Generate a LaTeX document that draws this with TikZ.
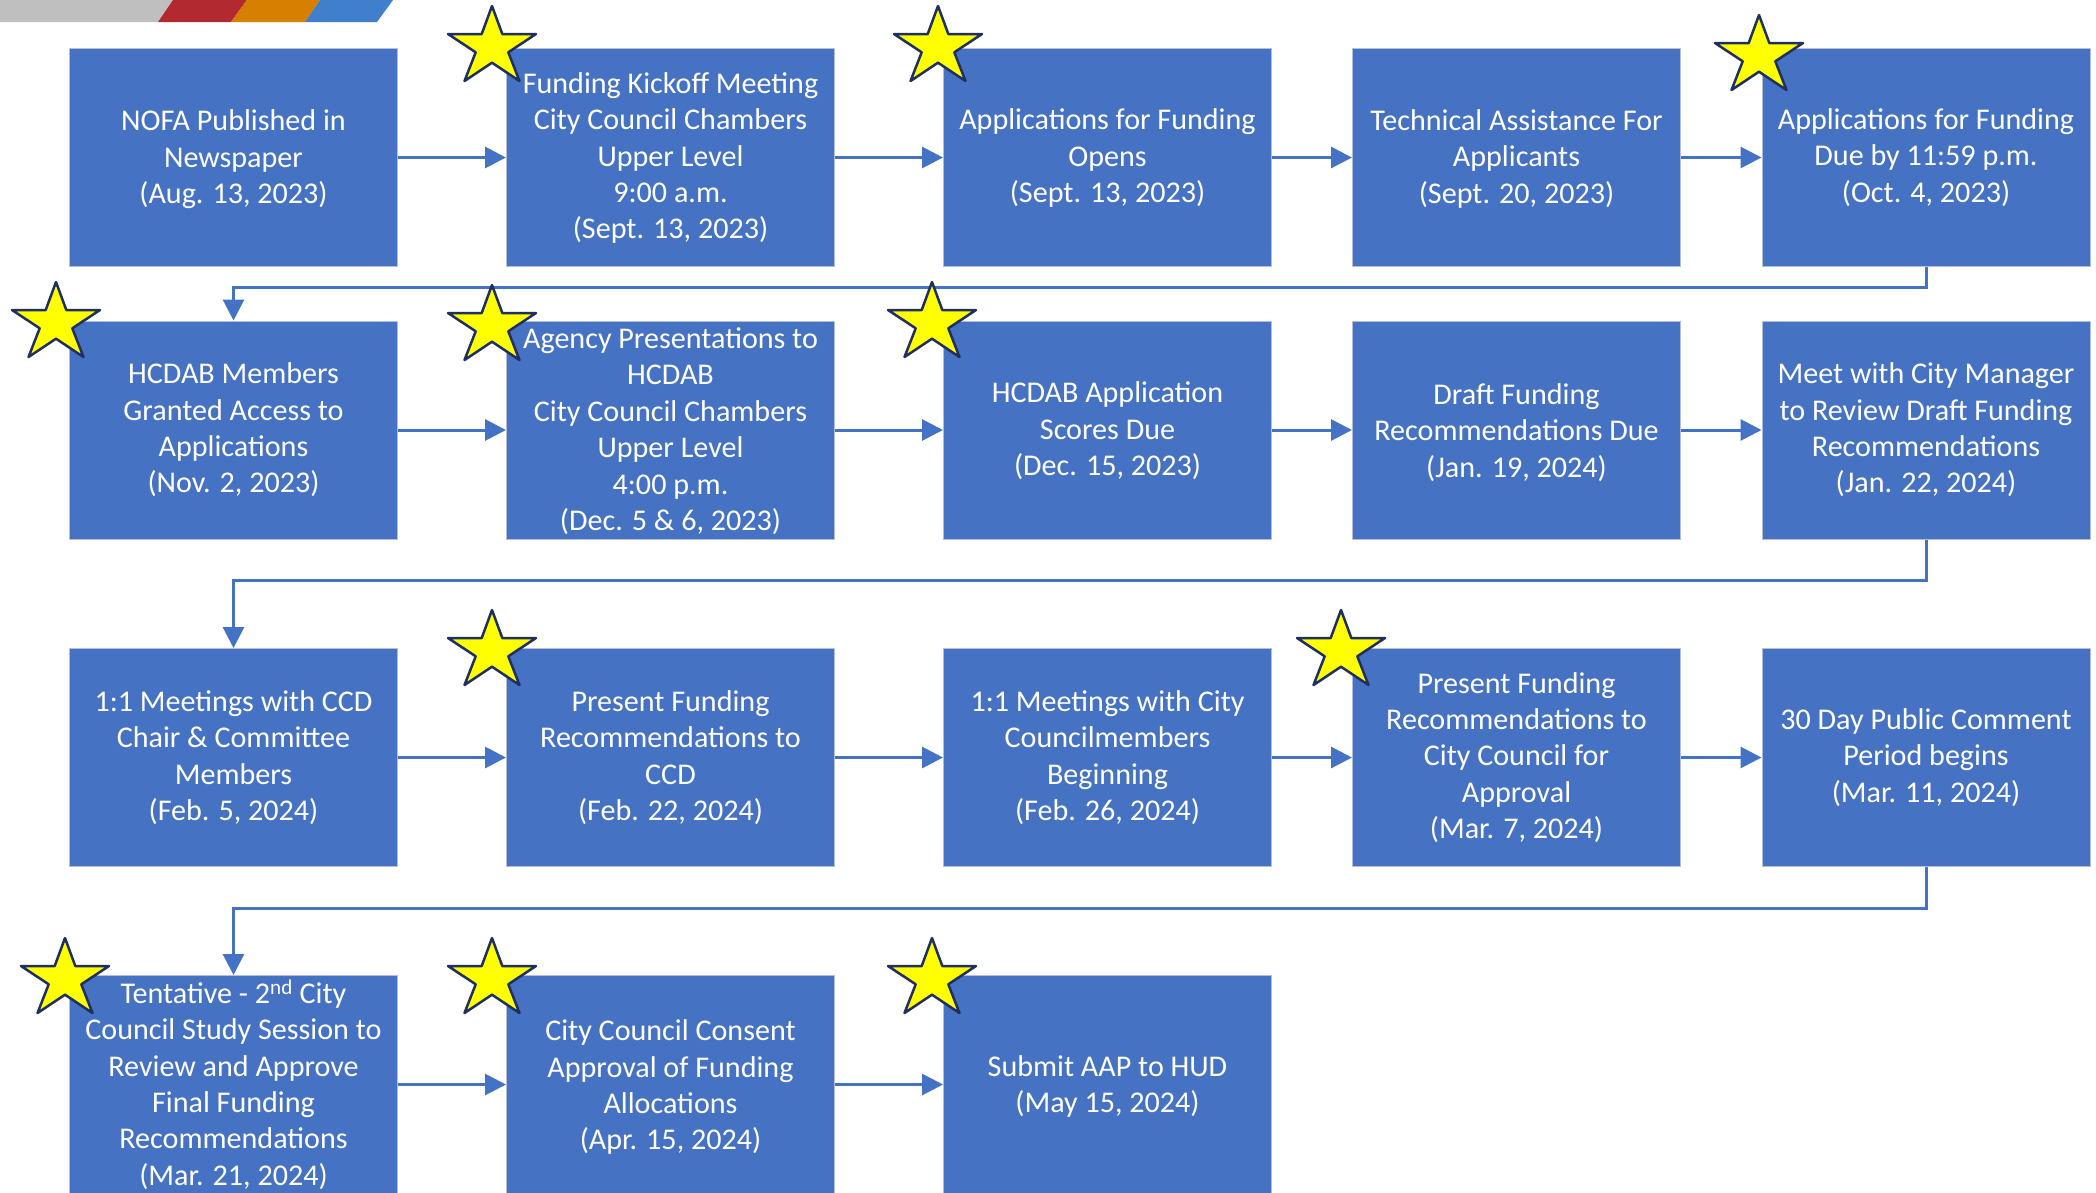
\documentclass[tikz,border=0pt]{standalone}
\usepackage{fontspec}
\setmainfont{Carlito}
\usetikzlibrary{arrows.meta}
\definecolor{boxblue}{HTML}{4672C4}
\definecolor{boxedge}{HTML}{B4BFD6}
\definecolor{linkblue}{HTML}{4472C4}
\definecolor{starfill}{HTML}{FFFF00}
\definecolor{starline}{HTML}{1F3060}
\tikzset{
  stepbox/.style={rectangle,draw=boxedge,line width=1pt,fill=boxblue,text=white,
    minimum width=328pt,minimum height=218pt,inner sep=0pt,align=center,
    font=\fontsize{30.1}{36.4}\selectfont},
  steplabel/.style={text=white,align=center,inner sep=0pt,
    font=\fontsize{30.1}{36.4}\selectfont},
  link/.style={draw=linkblue,line width=3pt,-{Triangle[length=21pt,width=21pt]}},
  wrap/.style={draw=linkblue,line width=3pt,-{Triangle[length=21pt,width=21pt]}},
  goldstar/.style={draw=starline,fill=starfill,line width=2.5pt,line join=round},
  band/.style={draw=none}
}
\newcommand{\starat}[2]{\path[goldstar,shift={(#1,#2)}] (0,1)--(-10.3,29)--(-44,29)--(-16.3,47.3)--(-27.5,76)--(0,57.7)--(27.5,76)--(16.3,47.3)--(44,29)--(10.3,29)--cycle;}
\begin{document}
\begin{tikzpicture}[x=1pt,y=-1pt]
\useasboundingbox (0,0) rectangle (2096,1192);
\clip (0,0) rectangle (2096,1192);
\fill[white] (0,0) rectangle (2096,1192);
% corner band
\fill[band,fill={rgb,255:red,191;green,191;blue,191}] (0,0)--(173,0)--(158,22)--(0,22)--cycle;
\fill[band,fill={rgb,255:red,178;green,42;blue,47}] (173,0)--(247,0)--(231,22)--(158,22)--cycle;
\fill[band,fill={rgb,255:red,214;green,127;blue,0}] (247,0)--(320,0)--(305,22)--(231,22)--cycle;
\fill[band,fill={rgb,255:red,63;green,127;blue,203}] (320,0)--(393,0)--(377,22)--(305,22)--cycle;
% row 1
\node[stepbox,label={[steplabel,yshift=-2pt]center:{NOFA Published in\\Newspaper\\(Aug. 13, 2023)}}] (a1) at (233.5,157.5) {};
\node[stepbox,label={[steplabel,yshift=-0.6pt]center:{Funding Kickoff Meeting\\City Council Chambers\\Upper Level\\9:00 a.m.\\(Sept. 13, 2023)}}] (a2) at (670.5,157.5) {};
\node[stepbox,label={[steplabel,yshift=-0.6pt]center:{Applications for Funding\\Opens\\(Sept. 13, 2023)}}] (a3) at (1107.5,157.5) {};
\node[stepbox,label={[steplabel,yshift=-1.2pt]center:{Technical Assistance For\\Applicants\\(Sept. 20, 2023)}}] (a4) at (1516.5,157.5) {};
\node[stepbox] (a5) at (1926,157.5) {Applications for Funding\\Due by 11:59 p.m.\\(Oct. 4, 2023)};
% row 2
\node[stepbox] (b1) at (233.5,430) {HCDAB Members\\Granted Access to\\Applications\\(Nov. 2, 2023)};
\node[stepbox,label={[steplabel,yshift=-1.2pt]center:{Agency Presentations to\\HCDAB\\City Council Chambers\\Upper Level\\4:00 p.m.\\(Dec. 5 \& 6, 2023)}}] (b2) at (670.5,430) {};
\node[stepbox,label={[steplabel,yshift=-1pt]center:{HCDAB Application\\Scores Due\\(Dec. 15, 2023)}}] (b3) at (1107.5,430) {};
\node[stepbox,label={[steplabel,yshift=-2.5pt]center:{Draft Funding\\Recommendations Due\\(Jan. 19, 2024)}}] (b4) at (1516.5,430) {};
\node[stepbox] (b5) at (1926,430) {Meet with City Manager\\to Review Draft Funding\\Recommendations\\(Jan. 22, 2024)};
% row 3
\node[stepbox] (c1) at (233.5,757.5) {1:1 Meetings with CCD\\Chair \& Committee\\Members\\(Feb. 5, 2024)};
\node[stepbox] (c2) at (670.5,757.5) {Present Funding\\Recommendations to\\CCD\\(Feb. 22, 2024)};
\node[stepbox] (c3) at (1107.5,757.5) {1:1 Meetings with City\\Councilmembers\\Beginning\\(Feb. 26, 2024)};
\node[stepbox] (c4) at (1516.5,757.5) {Present Funding\\Recommendations to\\City Council for\\Approval\\(Mar. 7, 2024)};
\node[stepbox] (c5) at (1926,757.5) {30 Day Public Comment\\Period begins\\(Mar. 11, 2024)};
% row 4
\node[stepbox] (d1) at (233.5,1084.5) {Tentative - 2\textsuperscript{nd} City\\Council Study Session to\\Review and Approve\\Final Funding\\Recommendations\\(Mar. 21, 2024)};
\node[stepbox,label={[steplabel,yshift=-2.7pt]center:{City Council Consent\\Approval of Funding\\Allocations\\(Apr. 15, 2024)}}] (d2) at (670.5,1084.5) {};
\node[stepbox,label={[steplabel,yshift=-2pt]center:{Submit AAP to HUD\\(May 15, 2024)}}] (d3) at (1107.5,1084.5) {};
% straight links
\foreach \p/\q in {a1/a2,a2/a3,a3/a4,a4/a5,b1/b2,b2/b3,b3/b4,b4/b5,c1/c2,c2/c3,c3/c4,c4/c5,d1/d2,d2/d3}
  \draw[link] (\p) -- (\q);
% wrapping links
\coordinate (w1) at (0,287);
\coordinate (w2) at (0,580);
\coordinate (w3) at (0,908);
\draw[wrap] (a5.south) -- (a5.south |- w1) -- (b1.north |- w1) -- (b1.north);
\draw[wrap] (b5.south) -- (b5.south |- w2) -- (c1.north |- w2) -- (c1.north);
\draw[wrap] (c5.south) -- (c5.south |- w3) -- (d1.north |- w3) -- (d1.north);
% stars
\starat{492}{5}
\starat{938}{5}
\starat{1759}{14}
\starat{56}{281}
\starat{492}{284}
\starat{932}{281}
\starat{492}{609}
\starat{1341}{609}
\starat{65}{937}
\starat{492}{937}
\starat{932}{937}
\end{tikzpicture}
\end{document}
